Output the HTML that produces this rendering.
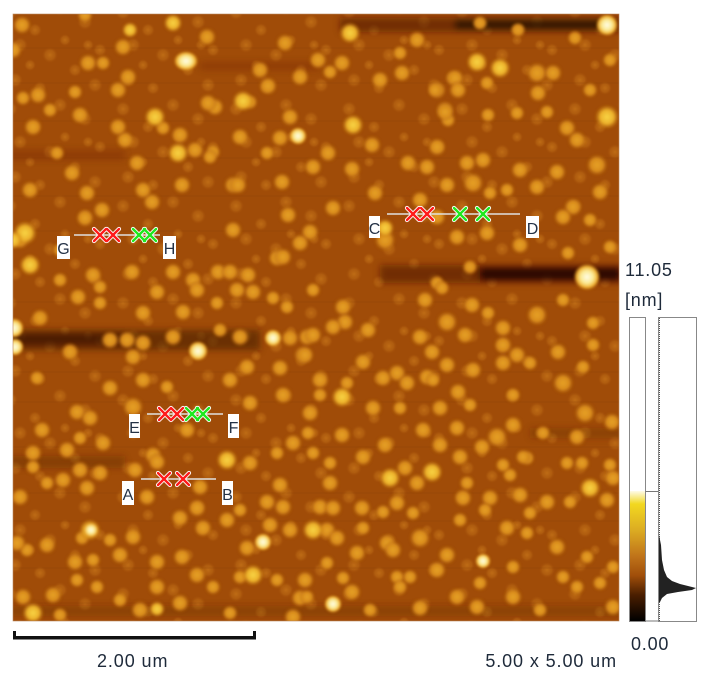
<!DOCTYPE html>
<html><head><meta charset="utf-8"><style>
html,body{margin:0;padding:0;background:#fff;}
svg{display:block;}
text{font-family:"Liberation Sans",sans-serif;}
.pp circle,.pp ellipse{transform-box:fill-box;transform-origin:center;transform:scale(1.4);}
.pw circle,.pw ellipse{transform-box:fill-box;transform-origin:center;transform:scale(1.15);}
</style></head><body>
<svg width="728" height="683" viewBox="0 0 728 683" xmlns="http://www.w3.org/2000/svg">
<defs>
<clipPath id="cp"><rect x="13" y="14" width="606" height="607"/></clipPath>
<radialGradient id="g0"><stop offset="0" stop-color="#c8761a"/><stop offset=".6" stop-color="#bc6a15" stop-opacity=".7"/><stop offset="1" stop-color="#a9540b" stop-opacity="0"/></radialGradient>
<radialGradient id="g1"><stop offset="0" stop-color="#e6a024"/><stop offset=".55" stop-color="#d98c1d"/><stop offset="1" stop-color="#b0600f" stop-opacity="0"/></radialGradient>
<radialGradient id="g2"><stop offset="0" stop-color="#f8d444"/><stop offset=".55" stop-color="#ecb02a"/><stop offset="1" stop-color="#c07010" stop-opacity="0"/></radialGradient>
<radialGradient id="g3"><stop offset="0" stop-color="#fffce6"/><stop offset=".45" stop-color="#fbea94"/><stop offset=".75" stop-color="#f0b030"/><stop offset="1" stop-color="#c07010" stop-opacity="0"/></radialGradient>
<linearGradient id="cb" x1="0" y1="0" x2="0" y2="1"><stop offset="0" stop-color="#fffbe8"/><stop offset=".1" stop-color="#f2d820"/><stop offset=".3" stop-color="#dcac22"/><stop offset=".5" stop-color="#c0741a"/><stop offset=".65" stop-color="#a04e0a"/><stop offset=".8" stop-color="#4a1e00"/><stop offset="1" stop-color="#000"/></linearGradient>
<filter id="bl" x="-20%" y="-200%" width="140%" height="500%"><feGaussianBlur stdDeviation="3.5"/></filter>
<filter id="sb" x="0" y="0" width="100%" height="100%"><feGaussianBlur stdDeviation="1"/></filter>
<pattern id="pt1" width="113" height="97" patternUnits="userSpaceOnUse">
<g fill="url(#g0)"><circle cx="10" cy="12" r="8"/><circle cx="35" cy="30" r="7"/><circle cx="60" cy="8" r="8"/><circle cx="85" cy="22" r="8"/><circle cx="100" cy="50" r="7"/><circle cx="20" cy="45" r="8"/><circle cx="50" cy="55" r="8"/><circle cx="75" cy="70" r="7"/><circle cx="95" cy="85" r="8"/><circle cx="15" cy="80" r="8"/><circle cx="40" cy="88" r="7"/><circle cx="65" cy="40" r="6"/><circle cx="30" cy="65" r="6"/><circle cx="88" cy="45" r="6"/></g>
</pattern>
</defs>

<!-- AFM image -->
<g clip-path="url(#cp)">
<rect x="13" y="14" width="606" height="607" fill="#a04c08"/>
<rect x="13" y="14" width="606" height="607" fill="url(#pt1)" opacity=".75"/>
<g stroke="#7a3a05" stroke-opacity=".18" stroke-width="1">
<line x1="13" y1="48" x2="619" y2="48"/><line x1="13" y1="83" x2="619" y2="83"/><line x1="13" y1="121" x2="619" y2="121"/><line x1="13" y1="158" x2="619" y2="158"/><line x1="13" y1="196" x2="619" y2="196"/><line x1="13" y1="231" x2="619" y2="231"/><line x1="13" y1="302" x2="619" y2="302"/><line x1="13" y1="372" x2="619" y2="372"/><line x1="13" y1="402" x2="619" y2="402"/><line x1="13" y1="447" x2="619" y2="447"/><line x1="13" y1="493" x2="619" y2="493"/><line x1="13" y1="521" x2="619" y2="521"/><line x1="13" y1="568" x2="619" y2="568"/><line x1="13" y1="603" x2="619" y2="603"/>
</g>
<g filter="url(#bl)">
<rect x="340" y="18" width="290" height="14" fill="#4a1a00" opacity=".55"/>
<rect x="455" y="20" width="150" height="9" fill="#120500" opacity=".7"/>
<rect x="380" y="265" width="250" height="18" fill="#4a1a00" opacity=".55"/>
<rect x="480" y="268" width="140" height="12" fill="#100400" opacity=".75"/>
<rect x="5" y="330" width="255" height="20" fill="#4a1a00" opacity=".6"/>
<rect x="5" y="334" width="120" height="10" fill="#2a0c00" opacity=".5"/>
<rect x="5" y="456" width="120" height="12" fill="#4a1a00" opacity=".3"/>
<rect x="5" y="150" width="120" height="10" fill="#4a1a00" opacity=".2"/>
<rect x="200" y="62" width="120" height="8" fill="#4a1a00" opacity=".2"/>
<rect x="530" y="428" width="95" height="10" fill="#4a1a00" opacity=".25"/>
<rect x="5" y="606" width="620" height="10" fill="#4a1a00" opacity=".25"/>
</g>
<g filter="url(#sb)">
<g class="pp" fill="url(#g1)">
<circle cx="22" cy="25" r="7"/><circle cx="85" cy="15" r="6"/><circle cx="13" cy="50" r="7"/><circle cx="123" cy="47" r="7"/><circle cx="88" cy="63" r="7"/><circle cx="103" cy="63" r="6"/><circle cx="128" cy="77" r="7"/><circle cx="38" cy="95" r="7"/><circle cx="23" cy="98" r="6"/><circle cx="118" cy="90" r="7"/><circle cx="80" cy="115" r="7"/><circle cx="50" cy="110" r="6"/><circle cx="207" cy="37" r="7"/><circle cx="33" cy="127" r="7"/><circle cx="125" cy="140" r="7"/><circle cx="137" cy="163" r="7"/><circle cx="72" cy="173" r="7"/><circle cx="30" cy="190" r="7"/><circle cx="152" cy="202" r="7"/><circle cx="143" cy="190" r="7"/><circle cx="85" cy="218" r="7"/><circle cx="195" cy="150" r="7"/><circle cx="213" cy="152" r="6"/><circle cx="233" cy="185" r="7"/><circle cx="182" cy="185" r="7"/><circle cx="233" cy="230" r="7"/><circle cx="102" cy="210" r="7"/><circle cx="180" cy="135" r="7"/><circle cx="163" cy="128" r="6"/><circle cx="87" cy="193" r="7"/><circle cx="57" cy="153" r="6"/><circle cx="75" cy="92" r="6"/><circle cx="215" cy="107" r="7"/><circle cx="118" cy="127" r="7"/>
<circle cx="285" cy="43" r="7"/><circle cx="260" cy="70" r="7"/><circle cx="268" cy="86" r="7"/><circle cx="300" cy="77" r="7"/><circle cx="318" cy="60" r="7"/><circle cx="342" cy="63" r="7"/><circle cx="330" cy="72" r="6"/><circle cx="417" cy="40" r="7"/><circle cx="402" cy="73" r="7"/><circle cx="437" cy="90" r="7"/><circle cx="445" cy="110" r="7"/><circle cx="380" cy="80" r="7"/><circle cx="372" cy="145" r="7"/><circle cx="328" cy="153" r="7"/><circle cx="352" cy="169" r="7"/><circle cx="267" cy="153" r="6"/><circle cx="240" cy="137" r="7"/><circle cx="280" cy="138" r="7"/><circle cx="313" cy="167" r="7"/><circle cx="238" cy="185" r="7"/><circle cx="282" cy="182" r="7"/><circle cx="288" cy="215" r="7"/><circle cx="333" cy="208" r="7"/><circle cx="310" cy="232" r="7"/><circle cx="385" cy="240" r="8"/><circle cx="408" cy="163" r="7"/><circle cx="427" cy="167" r="7"/><circle cx="448" cy="120" r="6"/><circle cx="453" cy="78" r="6"/><circle cx="208" cy="103" r="7"/><circle cx="290" cy="117" r="7"/><circle cx="250" cy="102" r="6"/><circle cx="210" cy="157" r="6"/><circle cx="400" cy="53" r="6"/><circle cx="420" cy="200" r="7"/><circle cx="375" cy="193" r="7"/><circle cx="437" cy="217" r="7"/>
<circle cx="480" cy="23" r="6"/><circle cx="518" cy="30" r="6"/><circle cx="455" cy="78" r="7"/><circle cx="435" cy="90" r="6"/><circle cx="458" cy="90" r="7"/><circle cx="487" cy="83" r="6"/><circle cx="537" cy="73" r="8"/><circle cx="553" cy="73" r="7"/><circle cx="538" cy="93" r="7"/><circle cx="575" cy="38" r="6"/><circle cx="445" cy="112" r="7"/><circle cx="488" cy="115" r="6"/><circle cx="517" cy="113" r="6"/><circle cx="547" cy="112" r="6"/><circle cx="567" cy="128" r="7"/><circle cx="577" cy="140" r="7"/><circle cx="597" cy="165" r="8"/><circle cx="557" cy="172" r="7"/><circle cx="520" cy="170" r="7"/><circle cx="483" cy="160" r="7"/><circle cx="467" cy="163" r="7"/><circle cx="437" cy="147" r="7"/><circle cx="473" cy="183" r="8"/><circle cx="447" cy="185" r="7"/><circle cx="537" cy="187" r="7"/><circle cx="573" cy="207" r="7"/><circle cx="600" cy="192" r="7"/><circle cx="507" cy="190" r="6"/><circle cx="490" cy="193" r="6"/><circle cx="520" cy="245" r="7"/><circle cx="563" cy="217" r="7"/><circle cx="590" cy="220" r="6"/><circle cx="568" cy="253" r="6"/><circle cx="487" cy="233" r="7"/><circle cx="457" cy="237" r="7"/><circle cx="470" cy="267" r="6"/><circle cx="610" cy="247" r="6"/><circle cx="437" cy="283" r="6"/><circle cx="610" cy="60" r="6"/><circle cx="590" cy="90" r="6"/>
<circle cx="93" cy="275" r="7"/><circle cx="60" cy="280" r="6"/><circle cx="78" cy="297" r="7"/><circle cx="100" cy="287" r="6"/><circle cx="100" cy="303" r="6"/><circle cx="40" cy="318" r="7"/><circle cx="132" cy="272" r="7"/><circle cx="173" cy="272" r="7"/><circle cx="157" cy="292" r="7"/><circle cx="183" cy="312" r="7"/><circle cx="193" cy="280" r="7"/><circle cx="197" cy="290" r="7"/><circle cx="218" cy="272" r="7"/><circle cx="230" cy="272" r="7"/><circle cx="248" cy="275" r="7"/><circle cx="253" cy="292" r="7"/><circle cx="237" cy="290" r="7"/><circle cx="217" cy="303" r="6"/><circle cx="143" cy="313" r="7"/><circle cx="173" cy="337" r="7"/><circle cx="110" cy="340" r="7"/><circle cx="127" cy="340" r="7"/><circle cx="143" cy="343" r="7"/><circle cx="70" cy="352" r="7"/><circle cx="290" cy="338" r="7"/><circle cx="307" cy="337" r="7"/><circle cx="303" cy="355" r="7"/><circle cx="277" cy="258" r="7"/><circle cx="283" cy="257" r="7"/><circle cx="300" cy="243" r="7"/><circle cx="313" cy="290" r="6"/><circle cx="273" cy="298" r="6"/><circle cx="287" cy="307" r="6"/><circle cx="240" cy="337" r="7"/><circle cx="220" cy="330" r="6"/><circle cx="133" cy="357" r="7"/><circle cx="247" cy="367" r="7"/><circle cx="280" cy="368" r="7"/><circle cx="230" cy="380" r="7"/><circle cx="143" cy="380" r="7"/><circle cx="37" cy="378" r="6"/><circle cx="110" cy="388" r="7"/><circle cx="167" cy="387" r="6"/><circle cx="283" cy="395" r="7"/><circle cx="250" cy="403" r="7"/><circle cx="77" cy="412" r="7"/><circle cx="90" cy="418" r="7"/><circle cx="133" cy="407" r="8"/><circle cx="42" cy="430" r="7"/><circle cx="187" cy="430" r="7"/><circle cx="310" cy="413" r="7"/><circle cx="60" cy="250" r="6"/><circle cx="20" cy="240" r="7"/>
<circle cx="343" cy="307" r="7"/><circle cx="345" cy="322" r="7"/><circle cx="333" cy="327" r="7"/><circle cx="368" cy="330" r="7"/><circle cx="313" cy="335" r="7"/><circle cx="305" cy="355" r="7"/><circle cx="320" cy="380" r="7"/><circle cx="320" cy="395" r="6"/><circle cx="347" cy="383" r="6"/><circle cx="363" cy="362" r="7"/><circle cx="383" cy="378" r="7"/><circle cx="397" cy="373" r="7"/><circle cx="407" cy="383" r="7"/><circle cx="427" cy="377" r="7"/><circle cx="433" cy="380" r="6"/><circle cx="420" cy="337" r="7"/><circle cx="432" cy="352" r="7"/><circle cx="447" cy="322" r="8"/><circle cx="472" cy="305" r="7"/><circle cx="425" cy="300" r="7"/><circle cx="442" cy="288" r="6"/><circle cx="488" cy="313" r="6"/><circle cx="503" cy="328" r="7"/><circle cx="465" cy="335" r="7"/><circle cx="503" cy="345" r="7"/><circle cx="517" cy="355" r="7"/><circle cx="447" cy="365" r="7"/><circle cx="473" cy="370" r="7"/><circle cx="503" cy="363" r="7"/><circle cx="537" cy="315" r="8"/><circle cx="563" cy="300" r="6"/><circle cx="593" cy="323" r="6"/><circle cx="558" cy="352" r="7"/><circle cx="583" cy="367" r="6"/><circle cx="563" cy="383" r="8"/><circle cx="593" cy="345" r="6"/><circle cx="458" cy="392" r="7"/><circle cx="440" cy="408" r="7"/><circle cx="470" cy="405" r="6"/><circle cx="513" cy="395" r="6"/><circle cx="513" cy="425" r="7"/><circle cx="497" cy="437" r="8"/><circle cx="457" cy="428" r="7"/><circle cx="585" cy="413" r="8"/><circle cx="612" cy="422" r="7"/><circle cx="577" cy="437" r="7"/><circle cx="543" cy="433" r="6"/><circle cx="342" cy="435" r="7"/><circle cx="373" cy="408" r="7"/><circle cx="400" cy="408" r="6"/><circle cx="423" cy="430" r="7"/><circle cx="530" cy="363" r="6"/><circle cx="313" cy="453" r="6"/><circle cx="308" cy="433" r="6"/><circle cx="527" cy="458" r="6"/><circle cx="567" cy="463" r="6"/><circle cx="610" cy="465" r="6"/>
<circle cx="33" cy="453" r="7"/><circle cx="67" cy="450" r="7"/><circle cx="80" cy="438" r="6"/><circle cx="103" cy="443" r="7"/><circle cx="153" cy="455" r="7"/><circle cx="157" cy="462" r="7"/><circle cx="135" cy="470" r="7"/><circle cx="80" cy="470" r="7"/><circle cx="100" cy="473" r="7"/><circle cx="33" cy="467" r="6"/><circle cx="63" cy="480" r="7"/><circle cx="47" cy="483" r="6"/><circle cx="87" cy="488" r="7"/><circle cx="20" cy="497" r="7"/><circle cx="147" cy="497" r="7"/><circle cx="180" cy="518" r="7"/><circle cx="197" cy="508" r="7"/><circle cx="203" cy="528" r="7"/><circle cx="227" cy="520" r="7"/><circle cx="240" cy="510" r="6"/><circle cx="250" cy="463" r="7"/><circle cx="280" cy="485" r="7"/><circle cx="293" cy="443" r="7"/><circle cx="277" cy="453" r="6"/><circle cx="267" cy="502" r="7"/><circle cx="283" cy="507" r="7"/><circle cx="290" cy="530" r="7"/><circle cx="270" cy="525" r="7"/><circle cx="247" cy="548" r="7"/><circle cx="82" cy="538" r="6"/><circle cx="133" cy="537" r="7"/><circle cx="110" cy="540" r="6"/><circle cx="47" cy="545" r="7"/><circle cx="27" cy="550" r="6"/><circle cx="120" cy="555" r="7"/><circle cx="75" cy="562" r="7"/><circle cx="93" cy="560" r="6"/><circle cx="157" cy="562" r="7"/><circle cx="182" cy="557" r="7"/><circle cx="197" cy="575" r="7"/><circle cx="213" cy="587" r="6"/><circle cx="157" cy="587" r="7"/><circle cx="97" cy="587" r="6"/><circle cx="53" cy="595" r="7"/><circle cx="23" cy="597" r="7"/><circle cx="140" cy="610" r="7"/><circle cx="120" cy="600" r="6"/><circle cx="180" cy="603" r="7"/><circle cx="240" cy="577" r="6"/><circle cx="277" cy="580" r="6"/><circle cx="300" cy="598" r="7"/><circle cx="293" cy="617" r="7"/><circle cx="77" cy="580" r="6"/><circle cx="200" cy="487" r="7"/><circle cx="17" cy="543" r="7"/><circle cx="230" cy="613" r="6"/><circle cx="60" cy="615" r="6"/>
<circle cx="385" cy="445" r="7"/><circle cx="440" cy="445" r="7"/><circle cx="460" cy="457" r="7"/><circle cx="363" cy="457" r="7"/><circle cx="330" cy="463" r="6"/><circle cx="405" cy="468" r="7"/><circle cx="330" cy="483" r="7"/><circle cx="417" cy="483" r="7"/><circle cx="467" cy="483" r="6"/><circle cx="510" cy="475" r="6"/><circle cx="503" cy="465" r="6"/><circle cx="523" cy="457" r="6"/><circle cx="482" cy="447" r="7"/><circle cx="463" cy="498" r="7"/><circle cx="490" cy="498" r="7"/><circle cx="520" cy="495" r="7"/><circle cx="547" cy="502" r="7"/><circle cx="570" cy="502" r="6"/><circle cx="607" cy="500" r="7"/><circle cx="613" cy="478" r="7"/><circle cx="582" cy="463" r="6"/><circle cx="320" cy="507" r="7"/><circle cx="333" cy="508" r="7"/><circle cx="362" cy="508" r="7"/><circle cx="383" cy="512" r="6"/><circle cx="397" cy="503" r="7"/><circle cx="413" cy="513" r="6"/><circle cx="485" cy="510" r="6"/><circle cx="530" cy="513" r="6"/><circle cx="460" cy="520" r="6"/><circle cx="327" cy="530" r="7"/><circle cx="363" cy="528" r="6"/><circle cx="337" cy="538" r="7"/><circle cx="420" cy="538" r="8"/><circle cx="387" cy="543" r="7"/><circle cx="393" cy="550" r="7"/><circle cx="507" cy="528" r="7"/><circle cx="527" cy="533" r="6"/><circle cx="557" cy="547" r="7"/><circle cx="587" cy="557" r="6"/><circle cx="613" cy="567" r="6"/><circle cx="447" cy="555" r="7"/><circle cx="437" cy="570" r="7"/><circle cx="410" cy="577" r="6"/><circle cx="357" cy="553" r="7"/><circle cx="327" cy="563" r="6"/><circle cx="305" cy="580" r="7"/><circle cx="343" cy="578" r="6"/><circle cx="352" cy="592" r="7"/><circle cx="397" cy="577" r="6"/><circle cx="400" cy="587" r="6"/><circle cx="513" cy="567" r="6"/><circle cx="480" cy="583" r="6"/><circle cx="457" cy="597" r="7"/><circle cx="420" cy="608" r="7"/><circle cx="307" cy="597" r="6"/><circle cx="370" cy="610" r="6"/><circle cx="477" cy="607" r="7"/><circle cx="513" cy="597" r="7"/><circle cx="563" cy="577" r="6"/><circle cx="577" cy="587" r="6"/><circle cx="600" cy="583" r="6"/><circle cx="613" cy="607" r="7"/><circle cx="540" cy="610" r="6"/>
</g>
<g class="pp" fill="url(#g2)">
<circle cx="173" cy="23" r="7"/><circle cx="155" cy="117" r="8"/><circle cx="178" cy="153" r="8"/><circle cx="25" cy="233" r="9"/><circle cx="13" cy="240" r="7"/><circle cx="243" cy="101" r="8"/><circle cx="353" cy="125" r="8"/><circle cx="350" cy="33" r="8"/><circle cx="477" cy="62" r="8"/><circle cx="500" cy="68" r="8"/><circle cx="607" cy="117" r="9"/><circle cx="30" cy="265" r="8"/><circle cx="342" cy="397" r="8"/><circle cx="227" cy="460" r="8"/><circle cx="253" cy="575" r="8"/><circle cx="432" cy="472" r="8"/><circle cx="390" cy="478" r="8"/><circle cx="590" cy="488" r="8"/><circle cx="313" cy="530" r="8"/><circle cx="33" cy="613" r="8"/><circle cx="385" cy="228" r="7"/><circle cx="130" cy="30" r="6"/><circle cx="157" cy="609" r="6"/><circle cx="90" cy="530" r="8"/>
</g>
<g class="pw" fill="url(#g3)">
<ellipse cx="186" cy="61" rx="11" ry="9"/><circle cx="587" cy="277" r="12"/><circle cx="198" cy="351" r="9"/><circle cx="14" cy="328" r="9"/><circle cx="15" cy="347" r="8"/><circle cx="273" cy="338" r="8"/><circle cx="91" cy="530" r="7"/><circle cx="263" cy="542" r="8"/><circle cx="333" cy="604" r="8"/><circle cx="483" cy="561" r="7"/><circle cx="298" cy="136" r="8"/><circle cx="607" cy="25" r="10"/>
</g>
</g>
</g>
<rect x="13" y="14" width="606" height="607" fill="none" stroke="#b98860" stroke-width="0.6"/>

<!-- profile markers -->
<g stroke="#e0e0e0" stroke-width="1.5">
<line x1="74" y1="235" x2="160" y2="235"/>
<line x1="387" y1="214" x2="520" y2="214"/>
<line x1="147" y1="414" x2="223" y2="414"/>
<line x1="141" y1="479" x2="216" y2="479"/>
</g>
<g stroke="#fff" stroke-width="4.2" stroke-linecap="round">
<path d="M94 229l12 12M94 241l12 -12M107 229l12 12M107 241l12 -12"/>
<path d="M133 229l12 12M133 241l12 -12M144 229l12 12M144 241l12 -12"/>
<path d="M407 208l12 12M407 220l12 -12M421 208l12 12M421 220l12 -12"/>
<path d="M454 208l12 12M454 220l12 -12M477 208l12 12M477 220l12 -12"/>
<path d="M159 408l12 12M159 420l12 -12M171 408l12 12M171 420l12 -12"/>
<path d="M186 408l12 12M186 420l12 -12M197 408l12 12M197 420l12 -12"/>
<path d="M158 473l12 12M158 485l12 -12M177 473l12 12M177 485l12 -12"/>
</g>
<g stroke="#ff1a1a" stroke-width="2.4" stroke-linecap="round">
<path d="M94 229l12 12M94 241l12 -12M107 229l12 12M107 241l12 -12"/>
<path d="M407 208l12 12M407 220l12 -12M421 208l12 12M421 220l12 -12"/>
<path d="M159 408l12 12M159 420l12 -12M171 408l12 12M171 420l12 -12"/>
<path d="M158 473l12 12M158 485l12 -12M177 473l12 12M177 485l12 -12"/>
</g>
<g stroke="#1ee81e" stroke-width="2.4" stroke-linecap="round">
<path d="M133 229l12 12M133 241l12 -12M144 229l12 12M144 241l12 -12"/>
<path d="M454 208l12 12M454 220l12 -12M477 208l12 12M477 220l12 -12"/>
<path d="M186 408l12 12M186 420l12 -12M197 408l12 12M197 420l12 -12"/>
</g>
<g fill="#fff">
<rect x="57" y="236" width="13" height="23"/><rect x="163" y="236" width="13" height="23"/>
<rect x="369" y="216" width="11" height="22"/><rect x="526" y="216" width="13" height="22"/>
<rect x="129" y="414" width="11" height="24"/><rect x="228" y="414" width="11" height="24"/>
<rect x="122" y="481" width="12" height="24"/><rect x="222" y="481" width="11" height="24"/>
</g>
<g fill="#243246" font-size="16" text-anchor="middle">
<text x="63.5" y="254">G</text><text x="169.5" y="254">H</text>
<text x="374.5" y="234">C</text><text x="532.5" y="234">D</text>
<text x="134.5" y="433">E</text><text x="233.5" y="433">F</text>
<text x="128" y="500">A</text><text x="227.5" y="500">B</text>
</g>

<!-- color bar -->
<rect x="629.5" y="317.5" width="16" height="304" fill="#fff" stroke="#888" stroke-width="1"/>
<rect x="630" y="491" width="15" height="130" fill="url(#cb)"/>
<path d="M645.5 491.5H658M645.5 621H658" stroke="#777" stroke-width="1" fill="none"/>
<rect x="658.5" y="317.5" width="38" height="304" fill="#fff" stroke="#888" stroke-width="1"/>
<line x1="659.5" y1="318" x2="659.5" y2="621" stroke="#555" stroke-width="1" stroke-dasharray="1 1"/>
<polygon points="659,535 661,545 662,560 664,570 667,577 672,581 680,584 696,588 692,590 678,592 667,594 662,598 660,602 659,602" fill="#222"/>
<g fill="#1e2a3a" font-size="18" letter-spacing="0.8">
<text x="625" y="276">11.05</text>
<text x="625" y="306">[nm]</text>
<text x="631" y="650">0.00</text>
</g>

<!-- scale bar -->
<rect x="13" y="636" width="243" height="3.5" fill="#111"/>
<rect x="13" y="631" width="3" height="8.5" fill="#111"/>
<rect x="253" y="631" width="3" height="8.5" fill="#111"/>
<g fill="#1e2a3a" font-size="18" letter-spacing="0.9">
<text x="97" y="667">2.00 um</text>
<text x="617" y="667" text-anchor="end">5.00 x 5.00 um</text>
</g>
</svg>
</body></html>
